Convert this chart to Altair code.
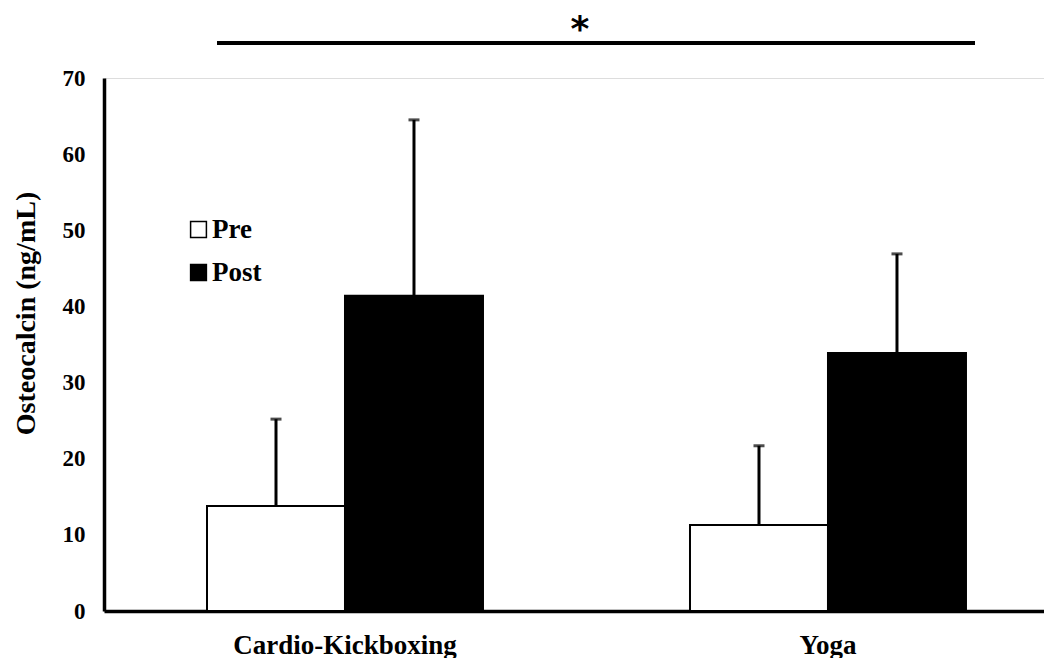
import altair as alt
import pandas as pd

groups = ["Cardio-Kickboxing", "Cardio-Kickboxing", "Yoga", "Yoga"]
phases = ["Pre", "Post", "Pre", "Post"]
means = [13.8, 41.4, 11.3, 33.9]
uppers = [25.2, 64.5, 21.7, 46.9]

sig_level = [74.6]
star_level = [77.4]

df = pd.DataFrame({"group": groups, "phase": phases, "mean": means, "upper": uppers})
sig_df = pd.DataFrame({"y": sig_level})
star_df = pd.DataFrame({"y": star_level, "label": ["*"]})

FONT = "Liberation Serif"
yscale = alt.Scale(domain=[0, 70], nice=False)
xscale = alt.Scale(paddingInner=0.4286, paddingOuter=0.1874, align=0.569)
offscale = alt.Scale(paddingInner=0, paddingOuter=0)
xsort = ["Cardio-Kickboxing", "Yoga"]

x_enc = alt.X("group:N", sort=xsort, scale=xscale,
              axis=alt.Axis(title=None, labelAngle=0, labelFont=FONT, labelFontWeight="bold",
                            labelFontSize=27, labelColor="black", labelPadding=21, ticks=False,
                            labelLimit=600, domainColor="black", domainWidth=3.5))
xo_enc = alt.XOffset("phase:N", sort=["Pre", "Post"], scale=offscale)

bars = alt.Chart(df).mark_bar(stroke="black", strokeWidth=2).encode(
    x=x_enc,
    xOffset=xo_enc,
    y=alt.Y("mean:Q", scale=yscale,
            axis=alt.Axis(title="Osteocalcin (ng/mL)", values=[0, 10, 20, 30, 40, 50, 60, 70],
                          grid=False, ticks=False, labelFont=FONT, labelFontWeight="bold",
                          labelFontSize=23, labelColor="black", labelPadding=19,
                          domainColor="black", domainWidth=3.5,
                          titleFont=FONT, titleFontWeight="bold", titleFontSize=28,
                          titleColor="black", titleX=-78, titleY=235, titleBaseline="middle")),
    color=alt.Color("phase:N", sort=["Pre", "Post"],
                    scale=alt.Scale(domain=["Pre", "Post"], range=["white", "black"]),
                    legend=alt.Legend(title=None, orient="none", legendX=81, legendY=138,
                                      symbolType="square", symbolSize=250,
                                      symbolStrokeColor="black", symbolStrokeWidth=1.5,
                                      labelFont=FONT, labelFontWeight="bold", labelFontSize=27,
                                      labelColor="black", rowPadding=15, labelOffset=0,
                                      padding=0)),
)

err = alt.Chart(df).mark_rule(color="black", strokeWidth=3).encode(
    x=alt.X("group:N", sort=xsort, scale=xscale),
    xOffset=xo_enc,
    y=alt.Y("mean:Q", scale=yscale),
    y2="upper:Q",
)

caps = alt.Chart(df).mark_tick(color="black", thickness=3, size=11, orient="horizontal").encode(
    x=alt.X("group:N", sort=xsort, scale=xscale),
    xOffset=xo_enc,
    y=alt.Y("upper:Q", scale=yscale),
)

sig = alt.Chart(sig_df).mark_rule(color="black", strokeWidth=4, clip=False).encode(
    x=alt.value(113), x2=alt.value(871),
    y=alt.Y("y:Q", scale=yscale),
)

star = alt.Chart(star_df).mark_text(fontSize=36, font="DejaVu Sans", fontWeight="bold",
                                    color="black", baseline="middle", dy=8, clip=False).encode(
    x=alt.value(476),
    y=alt.Y("y:Q", scale=yscale),
    text="label:N",
)

chart = alt.layer(bars, err, caps, sig, star).properties(
    width=940, height=533, padding={"left": 4, "top": 3, "right": 0, "bottom": 0}
).configure_view(stroke=None).configure(background="white")

chart.save("out.html", embed_options={"renderer": "svg", "actions": False})
